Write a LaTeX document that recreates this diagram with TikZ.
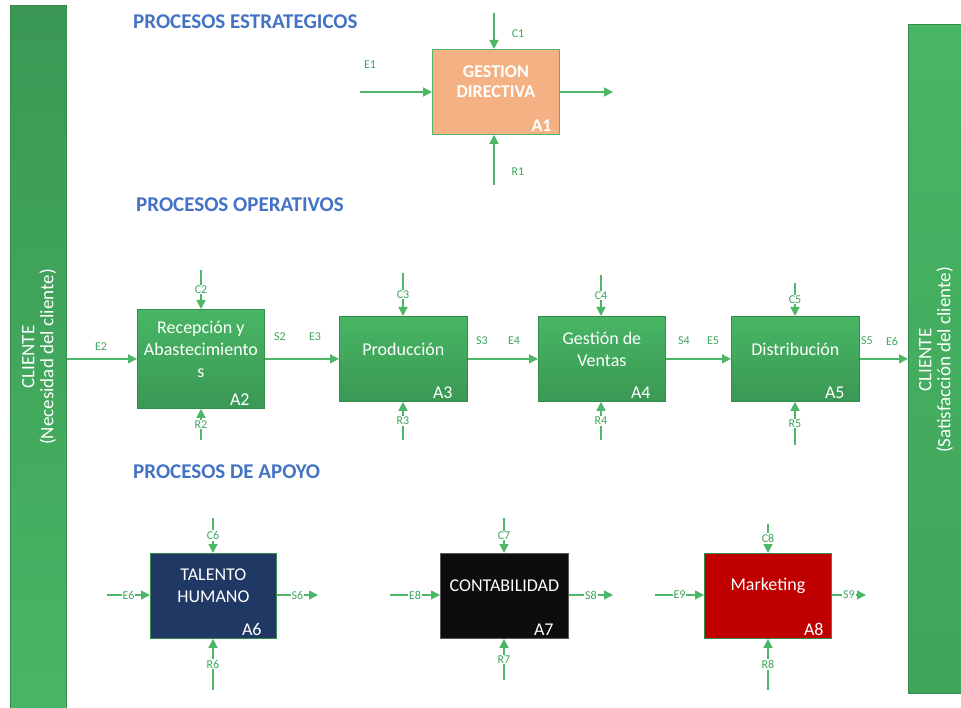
\documentclass[tikz,border=0pt]{standalone}
\usepackage{fontspec}
\setmainfont{Carlito}
\usetikzlibrary{arrows.meta}

\definecolor{flowgreen}{RGB}{78,182,104}
\definecolor{taggreen}{RGB}{62,165,92}
\definecolor{greenlight}{RGB}{72,182,100}
\definecolor{greendark}{RGB}{58,152,84}
\definecolor{greenedge}{RGB}{52,140,76}
\definecolor{orangebox}{RGB}{244,177,131}
\definecolor{navybox}{RGB}{32,56,100}
\definecolor{blackbox}{RGB}{13,13,13}
\definecolor{redbox}{RGB}{192,0,0}
\definecolor{titleblue}{RGB}{68,114,196}

\begin{document}
\begin{tikzpicture}[x=1pt,y=-1pt,
  flow/.style={draw=flowgreen, line width=1.4pt, -{Triangle[length=9pt,width=9pt]}},
  tag/.style={text=taggreen, font=\fontsize{12}{13}\selectfont, inner sep=1pt},
  ontag/.style={tag, fill=white},
  procbox/.style={anchor=north west, inner sep=0pt, line width=0.8pt, draw=greenedge},
  greenfill/.style={top color=greenlight, bottom color=greendark},
  boxtext/.style={text=white, align=center, font=\fontsize{18}{22}\selectfont},
  boxid/.style={text=white, anchor=south east, inner sep=0pt, font=\fontsize{18}{20}\selectfont},
  title/.style={anchor=west, inner sep=0pt, text=titleblue, font=\fontsize{21}{24}\selectfont\bfseries},
  bar/.style={anchor=north west, inner sep=0pt, draw=greenedge, line width=0.6pt},
  bartext/.style={text=white, rotate=90, align=center, font=\fontsize{19}{19}\selectfont}
]
\useasboundingbox (0,0) rectangle (961,708);

% client bars on both sides
\node[bar, minimum width=56pt, minimum height=703pt, top color=greendark, bottom color=greenlight] (barL) at (10,5) {};
\node[bar, minimum width=53pt, minimum height=669pt, top color=greenlight, bottom color=greendark!60!greenlight] (barR) at (908,24) {};
\node[bartext] (barLtxt) at (39,357) {CLIENTE\\(Necesidad del cliente)};
\node[bartext] (barRtxt) at (936,360) {CLIENTE\\(Satisfacción del cliente)};

% section titles
\node[title] (t1) at (133,22) {PROCESOS ESTRATEGICOS};
\node[title] (t2) at (136,205) {PROCESOS OPERATIVOS};
\node[title] (t3) at (133,472) {PROCESOS DE APOYO};

% strategic process
\node[procbox, fill=orangebox, draw=flowgreen, minimum width=127pt, minimum height=85pt] (A1) at (432,49) {};
\node[boxtext, font=\fontsize{18}{20}\selectfont\bfseries] (A1txt) at ([yshift=10pt]A1.center) {GESTION\\DIRECTIVA};
\node[boxid, font=\fontsize{18}{20}\selectfont\bfseries] (A1id) at ([xshift=-8pt,yshift=3pt]A1.south east) {A1};

\coordinate (c1) at (494,13);
\coordinate (e1) at (360,92);
\coordinate (s1) at (613,92);
\coordinate (r1) at (494,185);
\draw[flow] (c1) -- (c1 |- A1.north);
\draw[flow] (e1) -- (e1 -| A1.west);
\draw[flow] (A1.east |- s1) -- (s1);
\draw[flow] (r1) -- (r1 |- A1.south);
\node[tag] (lc1) at (518,34) {C1};
\node[tag] (le1) at (370,65) {E1};
\node[tag] (lr1) at (518,172) {R1};

% operative processes
\node[procbox, greenfill, minimum width=127pt, minimum height=99pt] (A2) at (137,309) {};
\node[procbox, greenfill, minimum width=128pt, minimum height=85pt] (A3) at (339,316) {};
\node[procbox, greenfill, minimum width=127pt, minimum height=85pt] (A4) at (538,316) {};
\node[procbox, greenfill, minimum width=128pt, minimum height=85pt] (A5) at (731,316) {};
\node[boxtext] (A2txt) at ([yshift=10pt]A2.center) {Recepción y\\Abastecimiento\\s};
\node[boxtext] (A3txt) at ([yshift=10pt]A3.center) {Producción};
\node[boxtext] (A4txt) at ([yshift=10pt]A4.center) {Gestión de\\Ventas};
\node[boxtext] (A5txt) at ([yshift=10pt]A5.center) {Distribución};
\node[boxid] (A2id) at ([xshift=-15pt,yshift=3pt]A2.south east) {A2};
\node[boxid] (A3id) at ([xshift=-15pt,yshift=3pt]A3.south east) {A3};
\node[boxid] (A4id) at ([xshift=-15pt,yshift=3pt]A4.south east) {A4};
\node[boxid] (A5id) at ([xshift=-15pt,yshift=3pt]A5.south east) {A5};

\draw[flow] (A2.west -| barL.east) -- (A2.west);
\draw[flow] (A2) -- (A3);
\draw[flow] (A3) -- (A4);
\draw[flow] (A4) -- (A5);
\draw[flow] (A5.east) -- (A5.east -| barR.west);
\node[tag] (le2) at (101,347) {E2};
\node[tag] (ls2) at (280,337) {S2};
\node[tag] (le3) at (315,337) {E3};
\node[tag] (ls3) at (482,341) {S3};
\node[tag] (le4) at (514,341) {E4};
\node[tag] (ls4) at (684,341) {S4};
\node[tag] (le5) at (713,341) {E5};
\node[tag] (ls5) at (867,341) {S5};
\node[tag] (le6) at (892,341) {E6};

\coordinate (c2) at (201,270);
\coordinate (c3) at (403,273);
\coordinate (c4) at (601,275);
\coordinate (c5) at (795,283);
\coordinate (r2) at (201,440);
\coordinate (r3) at (403,440);
\coordinate (r4) at (601,440);
\coordinate (r5) at (795,445);
\draw[flow] (c2) -- node[ontag] {C2} (c2 |- A2.north);
\draw[flow] (c3) -- node[ontag] {C3} (c3 |- A3.north);
\draw[flow] (c4) -- node[ontag] {C4} (c4 |- A4.north);
\draw[flow] (c5) -- node[ontag] {C5} (c5 |- A5.north);
\draw[flow] (r2) -- node[ontag] {R2} (r2 |- A2.south);
\draw[flow] (r3) -- node[ontag] {R3} (r3 |- A3.south);
\draw[flow] (r4) -- node[ontag] {R4} (r4 |- A4.south);
\draw[flow] (r5) -- node[ontag] {R5} (r5 |- A5.south);

% support processes
\node[procbox, fill=navybox, minimum width=126pt, minimum height=85pt] (A6) at (150,553) {};
\node[procbox, fill=blackbox, draw=gray!70!black, minimum width=128pt, minimum height=85pt] (A7) at (440,553) {};
\node[procbox, fill=redbox, minimum width=127pt, minimum height=85pt] (A8) at (704,553) {};
\node[boxtext] (A6txt) at ([yshift=10pt]A6.center) {TALENTO\\HUMANO};
\node[boxtext] (A7txt) at ([yshift=10pt]A7.center) {CONTABILIDAD};
\node[boxtext] (A8txt) at ([yshift=10pt]A8.center) {Marketing};
\node[boxid] (A6id) at ([xshift=-15pt,yshift=3pt]A6.south east) {A6};
\node[boxid] (A7id) at ([xshift=-15pt,yshift=3pt]A7.south east) {A7};
\node[boxid] (A8id) at ([xshift=-8pt,yshift=3pt]A8.south east) {A8};

\coordinate (e6) at (107,595);
\coordinate (s6) at (318,595);
\coordinate (e8) at (390,595);
\coordinate (s8) at (613,595);
\coordinate (e9) at (655,595);
\coordinate (s9) at (866,595);
\draw[flow] (e6) -- node[ontag] {E6} (e6 -| A6.west);
\draw[flow] (A6.east |- s6) -- node[ontag] {S6} (s6);
\draw[flow] (e8) -- node[ontag] {E8} (e8 -| A7.west);
\draw[flow] (A7.east |- s8) -- node[ontag] {S8} (s8);
\draw[flow] (e9) -- node[ontag] {E9} (e9 -| A8.west);
\draw[flow] (A8.east |- s9) -- node[ontag] {S9} (s9);

\coordinate (c6) at (213,518);
\coordinate (c7) at (504,518);
\coordinate (c8) at (768,524);
\coordinate (r6) at (213,690);
\coordinate (r7) at (504,680);
\coordinate (r8) at (768,690);
\draw[flow] (c6) -- node[ontag] {C6} (c6 |- A6.north);
\draw[flow] (c7) -- node[ontag] {C7} (c7 |- A7.north);
\draw[flow] (c8) -- node[ontag] {C8} (c8 |- A8.north);
\draw[flow] (r6) -- node[ontag] {R6} (r6 |- A6.south);
\draw[flow] (r7) -- node[ontag] {R7} (r7 |- A7.south);
\draw[flow] (r8) -- node[ontag] {R8} (r8 |- A8.south);
\end{tikzpicture}
\end{document}
